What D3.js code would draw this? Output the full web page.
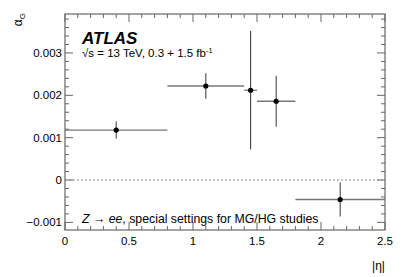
<!DOCTYPE html>
<html><head><meta charset="utf-8">
<script src="https://cdn.jsdelivr.net/npm/d3@7"></script>
<style>body{margin:0;background:#fff}svg text{font-family:"Liberation Sans",Arial,sans-serif}</style>
</head><body><svg id="c" width="407" height="277"></svg>
<script>
const etaLow  = [0.0, 0.8, 1.4, 1.5, 1.8];
const etaHigh = [0.8, 1.4, 1.5, 1.8, 2.5];
const etaCenter = [0.4, 1.1, 1.45, 1.65, 2.15];
const alphaG = [0.00118, 0.00222, 0.00212, 0.00186, -0.00046];
const alphaErr = [0.0002, 0.0003, 0.0014, 0.0006, 0.0004];
const xTicks = [0, 0.5, 1, 1.5, 2, 2.5];
const yTicks = [-0.001, 0, 0.001, 0.002, 0.003];

const svg = d3.select("#c");
const L=65, R=385, T=14, B=230;
const x = d3.scaleLinear().domain([0,2.5]).range([L,R]);
const y = d3.scaleLinear().domain([-0.00118,0.00392]).range([B,T]);
const axisCol="#666";

// minor ticks
const xMinor = d3.range(0,2.5001,0.1);
const yMinor = d3.range(-0.0012,0.0039,0.0002);
const g = svg.append("g");
xMinor.forEach(v=>{
  const major = xTicks.some(t=>Math.abs(t-v)<1e-6);
  const len = major?8:4;
  g.append("line").attr("x1",x(v)).attr("x2",x(v)).attr("y1",B).attr("y2",B-len).attr("stroke",axisCol);
  g.append("line").attr("x1",x(v)).attr("x2",x(v)).attr("y1",T).attr("y2",T+len).attr("stroke",axisCol);
});
yMinor.forEach(v=>{
  if (y(v)<T-0.5||y(v)>B+0.5) return;
  const major = yTicks.some(t=>Math.abs(t-v)<1e-9);
  const len = major?8:4;
  g.append("line").attr("x1",L).attr("x2",L+len).attr("y1",y(v)).attr("y2",y(v)).attr("stroke",axisCol);
  g.append("line").attr("x1",R).attr("x2",R-len).attr("y1",y(v)).attr("y2",y(v)).attr("stroke",axisCol);
});
g.append("rect").attr("x",L).attr("y",T).attr("width",R-L).attr("height",B-T).attr("fill","none").attr("stroke",axisCol).attr("stroke-width",1.2);

// tick labels
xTicks.forEach(v=>{
  svg.append("text").attr("x",x(v)).attr("y",B+15).attr("text-anchor","middle").attr("font-size",11.5).attr("fill","#000").text(d3.format("")(v));
});
yTicks.forEach(v=>{
  svg.append("text").attr("x",L-3).attr("y",y(v)+4).attr("text-anchor","end").attr("font-size",11.5).attr("fill","#000").text(v===0?"0":(v<0?"\u2212":"")+d3.format(".3f")(Math.abs(v)));
});

// zero line
svg.append("line").attr("x1",L).attr("x2",R).attr("y1",y(0)).attr("y2",y(0)).attr("stroke","#888").attr("stroke-dasharray","2,2");

// data
const pts = etaCenter.map((c,i)=>({c,lo:etaLow[i],hi:etaHigh[i],v:alphaG[i],e:alphaErr[i]}));
const dg = svg.append("g");
pts.forEach(p=>{
  dg.append("line").attr("x1",x(p.lo)).attr("x2",x(p.hi)).attr("y1",y(p.v)).attr("y2",y(p.v)).attr("stroke","#777").attr("stroke-width",1.3);
  dg.append("line").attr("x1",x(p.c)).attr("x2",x(p.c)).attr("y1",y(p.v+p.e)).attr("y2",y(p.v-p.e)).attr("stroke","#444").attr("stroke-width",1.1);
  dg.append("circle").attr("cx",x(p.c)).attr("cy",y(p.v)).attr("r",2.6).attr("fill","#000");
});

// texts
svg.append("text").attr("x",82).attr("y",44).attr("font-size",17).attr("font-weight","bold").attr("font-style","italic").text("ATLAS");
const t2 = svg.append("text").attr("x",82).attr("y",57).attr("font-size",11.5);
t2.append("tspan").text("\u221As = 13 TeV, 0.3 + 1.5 fb");
t2.append("tspan").attr("font-size",7.5).attr("dy",-4.5).text("-1");
const t3 = svg.append("text").attr("x",82).attr("y",222.5).attr("font-size",12.3);
t3.append("tspan").attr("font-style","italic").text("Z");
t3.append("tspan").text(" \u2192 ");
t3.append("tspan").attr("font-style","italic").text("ee");
t3.append("tspan").text(", special settings for MG/HG studies");

// axis titles
svg.append("text").attr("x",R).attr("y",270).attr("text-anchor","end").attr("font-size",12).text("|\u03B7|");
const yl = svg.append("text").attr("transform","translate(22,13) rotate(-90)").attr("text-anchor","end").attr("font-size",12);
yl.append("tspan").text("\u03B1");
yl.append("tspan").attr("font-size",8).attr("dy",3).text("G");
</script></body></html>
